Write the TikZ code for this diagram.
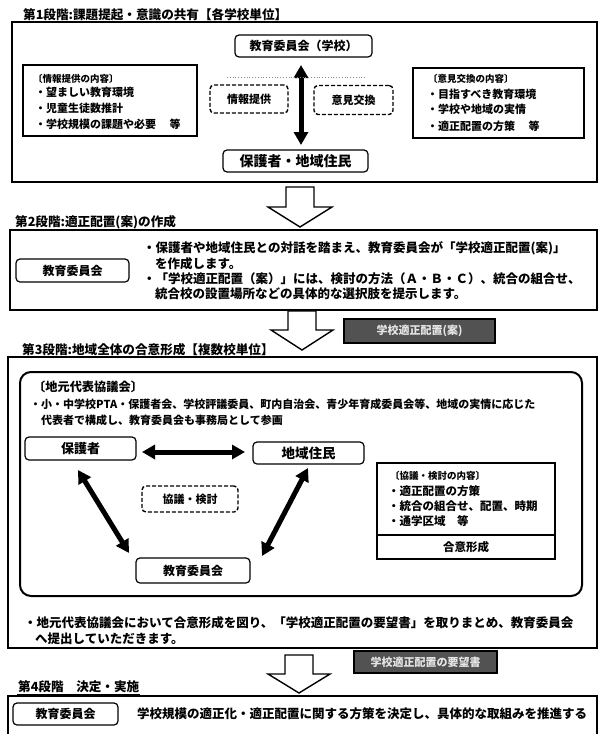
\documentclass[tikz,border=0pt]{standalone}
\usepackage{fontspec}
\setmainfont{Noto Sans CJK JP}
\usetikzlibrary{arrows.meta}
\tikzset{
  x=1pt, y=-1pt,
  lbl/.style={draw, rounded corners=4pt, line width=1.2pt, inner sep=0pt, font=\bfseries\fontsize{12}{14}\selectfont, align=center},
  dlbl/.style={lbl, line width=1.4pt, dash pattern=on 4pt off 2pt},
  txt/.style={anchor=west, inner sep=0pt, font=\bfseries\fontsize{11}{13}\selectfont},
  htxt/.style={txt, font=\bfseries\fontsize{9.5}{11}\selectfont},
  btxt/.style={txt, font=\bfseries\fontsize{12.5}{14}\selectfont},
  frame/.style={draw, line width=1.1pt, inner sep=0pt},
  ttl/.style={anchor=west, inner sep=1pt, font=\bfseries\fontsize{12.6}{14}\selectfont},
  uline/.style={line width=0.9pt},
  dbl/.style={line width=5pt, {Triangle[length=13pt,width=14pt]}-{Triangle[length=13pt,width=14pt]}},
  blockarrow/.style={draw, line width=1.4pt, fill=white, line join=miter},
  dark/.style={draw, line width=1.2pt, fill=black!68, text=white!90!black, inner sep=0pt, font=\bfseries\fontsize{11}{13}\selectfont},
}
\begin{document}
\begin{tikzpicture}
\useasboundingbox (0,0) rectangle (600,734);
\fill[white] (0,0) rectangle (600,734);

% ---------------- Stage 1 ----------------
\node[ttl] (t1) at (22,15) {第1段階:課題提起・意識の共有【各学校単位】};
\draw[uline] (t1.south west) -- (t1.south east);
\node[frame, minimum width=585, minimum height=160] (s1) at (304.5,102) {};

\node[lbl, minimum width=137, minimum height=22] (eduS) at (303.5,46) {教育委員会（学校）};
\node[lbl, minimum width=145, minimum height=22, font=\bfseries\fontsize{14}{16}\selectfont] (guard) at (295.5,161) {保護者・地域住民};
\coordinate (va1) at (301,65);
\coordinate (va2) at (301,145);
\draw[dbl] (va1) -- (va2);
\coordinate (dl1) at (227,77);
\coordinate (dl2) at (365,77);
\draw[black!45, dotted, line width=0.8pt] (dl1) -- (dl2);

\node[dlbl, minimum width=78, minimum height=28, font=\bfseries\fontsize{11}{13}\selectfont] (info) at (249,99) {情報提供};
\node[dlbl, minimum width=79, minimum height=29, font=\bfseries\fontsize{11}{13}\selectfont] (opin) at (353.5,100) {意見交換};

\node[frame, minimum width=174, minimum height=71] (lbox) at (110,100.5) {};
\node[htxt] (l0) at (33,79) {〔情報提供の内容〕};
\node[txt] (l1) at (35,92) {・望ましい教育環境};
\node[txt] (l2) at (35,108) {・児童生徒数推計};
\node[txt] (l3) at (35,124) {・学校規模の課題や必要　 等};

\node[frame, minimum width=171, minimum height=70] (rbox) at (498.5,103) {};
\node[htxt] (r0) at (428,79) {〔意見交換の内容〕};
\node[txt] (r1) at (427,94) {・目指すべき教育環境};
\node[txt] (r2) at (427,109) {・学校や地域の実情};
\node[txt] (r3) at (427,126) {・適正配置の方策　 等};

% block arrow 1
\draw[blockarrow] (286,187) -- (314,187) -- (314,207) -- (332,207) -- (300,227) -- (268,207) -- (286,207) -- cycle;

% ---------------- Stage 2 ----------------
\node[ttl] (t2) at (14,222) {第2段階:適正配置(案)の作成};
\draw[uline] (t2.south west) -- (t2.south east);
\node[frame, minimum width=587, minimum height=80] (s2) at (303.5,270) {};
\node[lbl, minimum width=113, minimum height=23] (edu2) at (72.5,270.5) {教育委員会};
\node[btxt] (p1) at (143,248) {・保護者や地域住民との対話を踏まえ、教育委員会が「学校適正配置(案)」};
\node[btxt] (p2) at (155,264) {を作成します。};
\node[btxt] (p3) at (143,279) {・「学校適正配置（案）」には、検討の方法（Ａ・Ｂ・Ｃ）、統合の組合せ、};
\node[btxt] (p4) at (155,294) {統合校の設置場所などの具体的な選択肢を提示します。};

% block arrow 2 + dark label
\draw[blockarrow] (288,311) -- (316,311) -- (316,330) -- (333,330) -- (302,350) -- (271,330) -- (288,330) -- cycle;
\node[dark, minimum width=151, minimum height=24] (d1) at (419.5,331) {学校適正配置(案)};

% ---------------- Stage 3 ----------------
\node[ttl] (t3) at (21,350) {第3段階:地域全体の合意形成【複数校単位】};
\draw[uline] (t3.south west) -- (t3.south east);
\node[frame, minimum width=589, minimum height=291] (s3) at (302.5,502.5) {};
\node[draw, line width=2pt, rounded corners=11pt, minimum width=562, minimum height=224, inner sep=0pt] (inner) at (301,484) {};

\node[txt, font=\bfseries\fontsize{12.2}{14}\selectfont] (c0) at (33,387) {〔地元代表協議会〕};
\node[txt] (c1) at (30,404) {・小・中学校PTA・保護者会、学校評議委員、町内自治会、青少年育成委員会等、地域の実情に応じた};
\node[txt] (c2) at (41,420) {代表者で構成し、教育委員会も事務局として参画};

\node[lbl, minimum width=111, minimum height=23, font=\bfseries\fontsize{13}{15}\selectfont] (par) at (80.5,448.5) {保護者};
\node[lbl, minimum width=111, minimum height=22, font=\bfseries\fontsize{13.5}{15}\selectfont] (res) at (308.5,453) {地域住民};
\node[lbl, minimum width=114, minimum height=25] (edu3) at (193,570.5) {教育委員会};
\node[dlbl, minimum width=96, minimum height=26, font=\bfseries\fontsize{11}{13}\selectfont] (disc) at (190,499) {協議・検討};

\coordinate (h1) at (142,452);
\coordinate (h2) at (245,452);
\draw[dbl] (h1) -- (h2);
\coordinate (dl3) at (78,470);
\coordinate (dl4) at (129,553);
\draw[dbl] (dl3) -- (dl4);
\coordinate (dr1) at (262,556);
\coordinate (dr2) at (308,468);
\draw[dbl] (dr1) -- (dr2);

\node[frame, minimum width=178, minimum height=72] (cup) at (466,499) {};
\node[frame, minimum width=178, minimum height=24, font=\bfseries\fontsize{11.5}{13}\selectfont] (agree) at (466,547) {合意形成};
\node[htxt] (k0) at (390,476) {〔協議・検討の内容〕};
\node[txt, font=\bfseries\fontsize{11.5}{13}\selectfont] (k1) at (388,491) {・適正配置の方策};
\node[txt, font=\bfseries\fontsize{11.5}{13}\selectfont] (k2) at (388,506) {・統合の組合せ、配置、時期};
\node[txt, font=\bfseries\fontsize{11.5}{13}\selectfont] (k3) at (388,521) {・通学区域　等};

\node[btxt] (b1) at (24,623) {・地元代表協議会において合意形成を図り、「学校適正配置の要望書」を取りまとめ、教育委員会};
\node[btxt] (b2) at (35,639) {へ提出していただきます。};

% block arrow 3 + dark label
\draw[blockarrow] (285,655) -- (313,655) -- (313,674) -- (330,674) -- (299,693) -- (268,674) -- (285,674) -- cycle;
\node[dark, minimum width=143, minimum height=22] (d2) at (425.5,662) {学校適正配置の要望書};

% ---------------- Stage 4 ----------------
\node[ttl] (t4) at (17,687) {第4段階　決定・実施};
\draw[uline] (t4.south west) -- (t4.south east);
\coordinate (f1) at (8,740);
\coordinate (f2) at (8,696);
\coordinate (f3) at (597,696);
\coordinate (f4) at (597,740);
\draw[line width=1.1pt] (f1) -- (f2) -- (f3) -- (f4);
\node[lbl, minimum width=105, minimum height=22] (edu4) at (65.5,714) {教育委員会};
\node[btxt] (e1) at (137,714) {学校規模の適正化・適正配置に関する方策を決定し、具体的な取組みを推進する};
\end{tikzpicture}
\end{document}
